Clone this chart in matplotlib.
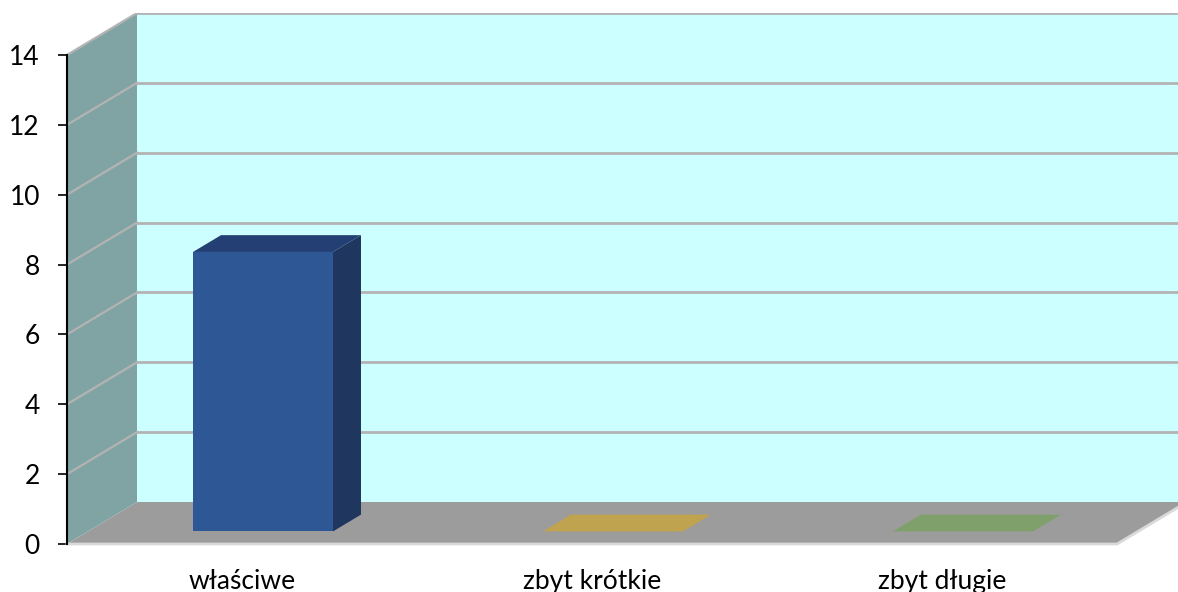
import matplotlib
matplotlib.use("Agg")
import matplotlib.pyplot as plt
from matplotlib.patches import Polygon

categories = ["właściwe", "zbyt krótkie", "zbyt długie"]
values = [8, 0, 0]
yticks = [0, 2, 4, 6, 8, 10, 12, 14]

front_colors = ["#2E5796", "#C0A34F", "#7F9F6B"]
side_colors = ["#1F365F", "#8A7530", "#5B7449"]
top_colors = ["#243F73", "#C0A34F", "#7F9F6B"]

W, H = 1178, 592
fig = plt.figure(figsize=(W / 100, H / 100), dpi=100)
fig.patch.set_facecolor("white")

ax_left, ax_bottom, ax_top = 67, 48, 579
ax = fig.add_axes([ax_left / W, ax_bottom / H, (W - ax_left) / W, (ax_top - ax_bottom) / H])
px_per_cat = 350.0
px_per_val = 34.93
xmin = -0.5
xmax = xmin + (W - ax_left) / px_per_cat
ax.set_xlim(xmin, xmax)
ax.set_ylim(0, (ax_top - ax_bottom) / px_per_val)
ymax_val = yticks[-1]

dx = 70 / px_per_cat
dy = 42 / px_per_val
n = len(categories)
x_end = n - 0.5

# back wall
ax.add_patch(Polygon([(xmin + dx, dy), (xmax + 1, dy), (xmax + 1, ymax_val + dy), (xmin + dx, ymax_val + dy)],
                     closed=True, facecolor="#CCFFFF", edgecolor="none", zorder=1))
# side wall
ax.add_patch(Polygon([(xmin, 0), (xmin, ymax_val), (xmin + dx, ymax_val + dy), (xmin + dx, dy)],
                     closed=True, facecolor="#80A4A4", edgecolor="none", zorder=1))
# floor
ax.add_patch(Polygon([(xmin, 0), (x_end, 0), (x_end + dx, dy), (xmin + dx, dy)],
                     closed=True, facecolor="#9C9C9C", edgecolor="none", zorder=1))
ax.plot([xmin, x_end, x_end + dx], [0, 0, dy], color="#D9D9D9", lw=2, zorder=2, clip_on=False)

# gridlines
for v in yticks[1:]:
    ax.plot([xmin + dx, xmax + 1], [v + dy, v + dy], color="#B3B3B3", lw=2, zorder=2)
    ax.plot([xmin, xmin + dx], [v, v + dy], color="#B3B3B3", lw=1.6, zorder=2)

# bars
bw = 0.4
d0, d1 = 0.3, 0.7
for i, v in enumerate(values):
    x0 = i - bw / 2
    x1 = i + bw / 2
    fx, fy = d0 * dx, d0 * dy
    bx, by = d1 * dx, d1 * dy
    if v > 0:
        ax.add_patch(Polygon([(x1 + fx, fy), (x1 + bx, by), (x1 + bx, v + by), (x1 + fx, v + fy)],
                             closed=True, facecolor=side_colors[i], edgecolor="none", zorder=3))
        ax.add_patch(Polygon([(x0 + fx, fy), (x1 + fx, fy), (x1 + fx, v + fy), (x0 + fx, v + fy)],
                             closed=True, facecolor=front_colors[i], edgecolor="none", zorder=4))
    ax.add_patch(Polygon([(x0 + fx, v + fy), (x1 + fx, v + fy), (x1 + bx, v + by), (x0 + bx, v + by)],
                         closed=True, facecolor=top_colors[i], edgecolor="none", zorder=4))

# axis styling
for s in ["top", "right", "bottom"]:
    ax.spines[s].set_visible(False)
ax.spines["left"].set_bounds(0, ymax_val)
ax.spines["left"].set_color("black")
ax.spines["left"].set_linewidth(1.5)
ax.spines["left"].set_zorder(5)
ax.set_yticks(yticks)
ax.set_yticklabels([str(t) for t in yticks], fontsize=19, family="Lato")
ax.tick_params(axis="y", direction="out", length=6.5, width=1.2, pad=13)
ax.set_xticks(range(n))
ax.set_xticklabels(categories, fontsize=19, family="Lato")
ax.tick_params(axis="x", length=0, pad=18)
ax.set_facecolor("none")

fig.savefig("out.png", dpi=100, facecolor="white")
